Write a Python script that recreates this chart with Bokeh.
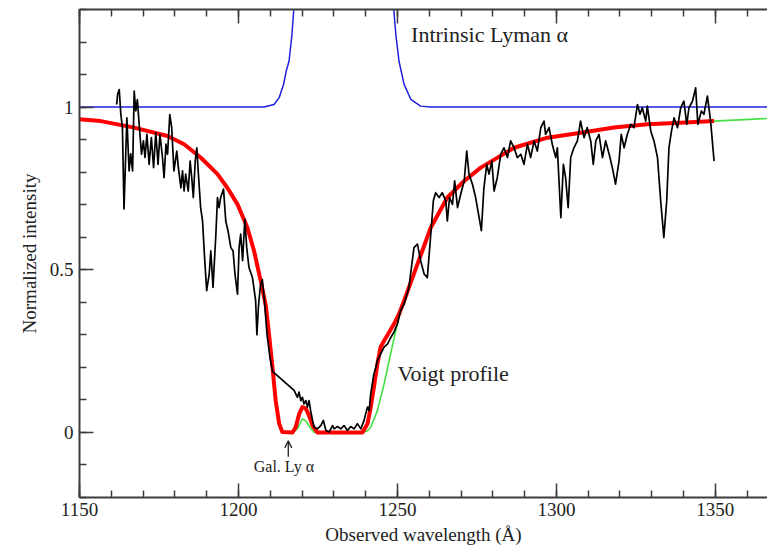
from bokeh.plotting import figure
from bokeh.models import (Range1d, LinearAxis, SingleIntervalTicker, CustomJSTickFormatter,
                          Label, Arrow, OpenHead)
from bokeh.embed import file_html
from bokeh.resources import INLINE

# Observed spectrum (wavelength in Angstrom, normalized flux)
spec_wl = [1161.7, 1162.0, 1162.5, 1163.0, 1163.5, 1164.0, 1164.9, 1165.6, 1166.1, 1166.7,
           1167.2, 1167.7, 1168.2, 1168.7, 1169.5, 1170.1, 1170.6, 1171.2, 1171.9, 1172.6,
           1173.3, 1174.0, 1174.7, 1175.3, 1176.1, 1176.6, 1177.2, 1177.7, 1178.4, 1179.0,
           1179.7, 1180.6, 1181.1, 1181.9, 1182.4, 1182.9, 1183.4, 1184.2, 1184.8, 1185.3,
           1185.8, 1186.4, 1186.9, 1187.4, 1188.1, 1188.7, 1189.4, 1190.0, 1190.8, 1191.3,
           1192.0, 1192.9, 1193.4, 1193.9, 1194.4, 1195.3, 1196.0, 1196.7, 1197.6, 1198.3,
           1198.9, 1199.7, 1200.2, 1200.7, 1201.3, 1202.0, 1202.6, 1203.3, 1204.4, 1205.4,
           1205.8, 1206.3, 1206.9, 1207.5, 1208.2, 1209.0, 1209.9, 1210.7, 1217.5, 1218.55,
           1219.06, 1219.6, 1220.1, 1220.6, 1221.2, 1221.7, 1222.2, 1222.7, 1223.3, 1223.8,
           1224.8, 1225.9, 1226.7, 1227.5, 1228.5, 1229.6, 1230.1, 1231.1, 1232.2, 1233.2,
           1234.3, 1235.3, 1236.4, 1237.4, 1238.5, 1239.5, 1240.0, 1240.6, 1241.1, 1241.6,
           1242.1, 1242.6, 1243.2, 1243.7, 1244.7, 1245.8, 1246.9, 1247.9, 1248.9, 1249.5,
           1250.0, 1250.5, 1251.0, 1252.1, 1253.6, 1255.2, 1256.3, 1257.3, 1258.4, 1259.4,
           1260.5, 1261.3, 1262.0, 1263.1, 1264.1, 1265.2, 1265.7, 1266.4, 1267.3, 1268.0,
           1268.9, 1269.9, 1271.0, 1271.8, 1272.5, 1273.6, 1274.6, 1275.7, 1276.4, 1277.2,
           1278.1, 1278.8, 1279.7, 1280.4, 1281.4, 1282.5, 1283.5, 1284.6, 1285.6, 1286.7,
           1287.7, 1288.8, 1289.8, 1290.9, 1291.9, 1293.0, 1294.0, 1295.1, 1296.1, 1296.6,
           1297.7, 1298.7, 1299.8, 1300.3, 1301.4, 1302.2, 1302.9, 1303.7, 1304.5, 1305.5,
           1306.6, 1307.6, 1308.7, 1309.7, 1310.8, 1311.6, 1312.4, 1313.4, 1314.5, 1315.5,
           1316.6, 1317.6, 1318.6, 1319.7, 1320.4, 1321.3, 1322.3, 1323.4, 1324.4, 1325.5,
           1326.3, 1327.0, 1328.1, 1328.6, 1329.7, 1330.7, 1331.8, 1332.8, 1333.8, 1334.7,
           1335.4, 1336.2, 1337.0, 1338.1, 1339.1, 1340.1, 1341.0, 1341.7, 1342.8, 1343.8,
           1344.5, 1345.6, 1346.4, 1347.5, 1348.5, 1349.6]
spec_flux = [1.008, 1.040, 1.054, 0.978, 0.937, 0.687, 0.967, 0.804, 0.856, 0.804,
             1.049, 0.988, 1.023, 0.957, 0.855, 0.896, 0.845, 0.916, 0.824, 0.906,
             0.814, 0.921, 0.824, 0.916, 0.845, 0.783, 0.886, 0.855, 0.977, 0.937,
             0.804, 0.865, 0.814, 0.752, 0.804, 0.742, 0.794, 0.742, 0.834, 0.783,
             0.722, 0.834, 0.875, 0.794, 0.691, 0.650, 0.528, 0.436, 0.487, 0.558,
             0.446, 0.610, 0.722, 0.691, 0.722, 0.748, 0.650, 0.620, 0.568, 0.558,
             0.487, 0.425, 0.568, 0.610, 0.528, 0.655, 0.568, 0.507, 0.476, 0.405,
             0.300, 0.390, 0.450, 0.470, 0.400, 0.300, 0.231, 0.188, 0.129, 0.108,
             0.124, 0.098, 0.108, 0.088, 0.098, 0.078, 0.098, 0.067, 0.037, 0.016,
             0.011, 0.021, 0.037, 0.006, 0.001, 0.021, 0.011, 0.018, 0.011, 0.021,
             0.006, 0.018, 0.011, 0.027, 0.011, 0.037, 0.057, 0.078, 0.067, 0.119,
             0.149, 0.180, 0.200, 0.221, 0.241, 0.262, 0.272, 0.292, 0.308, 0.323,
             0.333, 0.354, 0.374, 0.395, 0.445, 0.568, 0.579, 0.528, 0.487, 0.476,
             0.610, 0.712, 0.737, 0.722, 0.737, 0.712, 0.650, 0.722, 0.701, 0.773,
             0.691, 0.732, 0.773, 0.865, 0.794, 0.763, 0.722, 0.660, 0.620, 0.752,
             0.824, 0.794, 0.834, 0.742, 0.783, 0.855, 0.875, 0.845, 0.896, 0.875,
             0.845, 0.855, 0.824, 0.886, 0.845, 0.896, 0.865, 0.937, 0.957, 0.916,
             0.937, 0.886, 0.845, 0.875, 0.660, 0.824, 0.783, 0.691, 0.845, 0.875,
             0.896, 0.957, 0.906, 0.937, 0.896, 0.824, 0.896, 0.916, 0.845, 0.896,
             0.855, 0.814, 0.763, 0.834, 0.916, 0.875, 0.916, 0.947, 0.937, 1.008,
             0.978, 0.998, 0.957, 1.003, 0.926, 0.896, 0.845, 0.712, 0.599, 0.712,
             0.875, 0.926, 0.967, 0.937, 0.998, 1.018, 0.947, 0.998, 1.018, 1.059,
             0.947, 0.988, 0.978, 1.034, 0.957, 0.834]

# Intrinsic (unabsorbed) Lyman alpha emission
intr_wl = [1150.0, 1208.0, 1211.2, 1212.8, 1214.2, 1215.0, 1215.9, 1216.8, 1217.4, 1218.5,
           1233.0, 1248.0, 1248.9, 1249.5, 1250.5, 1252.1, 1254.2, 1257.3, 1260.5, 1366.4]
intr_flux = [1.0, 1.0, 1.008, 1.029, 1.07, 1.11, 1.141, 1.22, 1.30, 1.6,
             3.0, 1.6, 1.294, 1.223, 1.141, 1.07, 1.024, 1.003, 1.0, 1.0]

# Voigt profile of the damped absorber alone
voigt_wl = [1150.0, 1156.7, 1167.2, 1177.7, 1182.9, 1188.1, 1193.4, 1196.5, 1199.7, 1202.8,
            1204.9, 1207.0, 1208.6, 1209.6, 1210.7, 1211.7, 1212.8, 1213.8, 1217.0, 1218.5,
            1219.5, 1220.1, 1221.2, 1222.5, 1223.8, 1239.0, 1240.6, 1241.6, 1243.7, 1245.8,
            1247.4, 1249.0, 1250.5, 1252.1, 1253.6, 1260.5, 1265.7, 1271.0, 1276.2, 1286.7,
            1297.2, 1307.7, 1318.1, 1328.6, 1339.1, 1349.6, 1366.4]
voigt_flux = [0.963, 0.957, 0.937, 0.911, 0.886, 0.845, 0.794, 0.752, 0.701, 0.630,
              0.558, 0.466, 0.390, 0.303, 0.200, 0.098, 0.027, 0.001, 0.0, 0.010,
              0.030, 0.042, 0.035, 0.015, 0.0, 0.0, 0.005, 0.016, 0.067, 0.149,
              0.221, 0.292, 0.354, 0.405, 0.445, 0.630, 0.722, 0.773, 0.814, 0.875,
              0.906, 0.921, 0.937, 0.947, 0.952, 0.957, 0.965]

# Full model (Voigt profile plus Galactic Ly alpha absorption)
model_wl = [1150.0, 1156.7, 1167.2, 1177.7, 1182.9, 1188.1, 1193.4, 1196.5, 1199.7, 1202.8,
            1204.9, 1207.0, 1208.6, 1209.6, 1210.7, 1211.7, 1212.8, 1213.8, 1217.0, 1218.0,
            1219.1, 1220.1, 1221.2, 1222.2, 1223.3, 1224.8, 1239.0, 1240.6, 1241.6, 1242.6,
            1243.7, 1244.7, 1245.8, 1247.4, 1248.9, 1250.5, 1252.1, 1253.6, 1260.5, 1265.7,
            1271.0, 1276.2, 1286.7, 1297.2, 1307.7, 1318.1, 1328.6, 1339.1, 1349.6]
model_flux = [0.963, 0.957, 0.937, 0.911, 0.886, 0.845, 0.794, 0.752, 0.701, 0.630,
              0.558, 0.466, 0.390, 0.303, 0.200, 0.098, 0.027, 0.001, 0.0, 0.016,
              0.057, 0.078, 0.073, 0.052, 0.021, 0.0, 0.0, 0.027, 0.078, 0.139,
              0.211, 0.262, 0.282, 0.308, 0.333, 0.364, 0.405, 0.445, 0.630, 0.722,
              0.773, 0.814, 0.875, 0.906, 0.921, 0.937, 0.947, 0.952, 0.957]

GAL_LYA = 1215.67

SERIF = "Liberation Serif"
AXIS_COLOR = "#3c3c3c"
TEXT_COLOR = "#222222"

p = figure(width=767, height=548,
           x_range=Range1d(1150, 1366.4), y_range=Range1d(-0.2, 1.3),
           output_backend="svg", toolbar_location=None,
           min_border_left=79, min_border_right=0, min_border_top=9, min_border_bottom=51,
           outline_line_color=None, background_fill_color="white", border_fill_color="white")
p.grid.visible = False

fmt = CustomJSTickFormatter(code="return String(Number(tick.toFixed(2)));")


def style_axis(ax):
    ax.axis_line_color = AXIS_COLOR
    ax.axis_line_width = 2
    ax.major_tick_line_color = AXIS_COLOR
    ax.minor_tick_line_color = AXIS_COLOR
    ax.major_tick_line_width = 1.5
    ax.minor_tick_line_width = 1.5
    ax.major_tick_in = 14
    ax.major_tick_out = 0
    ax.minor_tick_in = 7
    ax.minor_tick_out = 0
    ax.major_label_text_font = SERIF
    ax.major_label_text_font_size = "19px"
    ax.major_label_text_color = TEXT_COLOR
    ax.axis_label_text_font = SERIF
    ax.axis_label_text_font_size = "19px"
    ax.axis_label_text_font_style = "normal"
    ax.axis_label_text_color = TEXT_COLOR


xa = p.xaxis[0]
xa.ticker = SingleIntervalTicker(interval=50, num_minor_ticks=5)
xa.formatter = fmt
style_axis(xa)
xa.major_label_standoff = 5
xa.axis_label = "Observed wavelength (Å)"
xa.axis_label_standoff = 5

ya = p.yaxis[0]
ya.ticker = SingleIntervalTicker(interval=0.5, num_minor_ticks=5)
ya.formatter = fmt
style_axis(ya)
ya.major_label_standoff = 6
ya.axis_label = "Normalized intensity"
ya.axis_label_standoff = 7

# mirrored tick marks along the top edge, without labels
top = LinearAxis(ticker=SingleIntervalTicker(interval=50, num_minor_ticks=5),
                 formatter=CustomJSTickFormatter(code="return '';"))
style_axis(top)
top.major_label_text_font_size = "1px"
top.major_label_standoff = 0
p.add_layout(top, "above")

# curves
p.line(intr_wl, intr_flux, line_color="#1f1fe0", line_width=1.5)
p.line(voigt_wl, voigt_flux, line_color="#44e044", line_width=1.6)
p.line(model_wl, model_flux, line_color="#ff0000", line_width=4, line_join="round")
p.line(spec_wl, spec_flux, line_color="black", line_width=1.7, line_join="round")

# annotations
p.add_layout(Label(x=1254.3, y=1.222, text="Intrinsic Lyman α", text_font=SERIF,
                   text_font_size="22px", text_color=TEXT_COLOR, text_baseline="alphabetic"))
p.add_layout(Label(x=1250.0, y=0.180, text="Voigt profile", text_font=SERIF,
                   text_font_size="22px", text_color=TEXT_COLOR, text_baseline="alphabetic"))
p.add_layout(Label(x=1214.3, y=-0.105, text="Gal. Ly α", text_font=SERIF,
                   text_font_size="16px", text_color=TEXT_COLOR, text_align="center",
                   text_baseline="alphabetic"))
p.add_layout(Arrow(x_start=GAL_LYA, y_start=-0.075, x_end=GAL_LYA, y_end=-0.026,
                   line_color=TEXT_COLOR, line_width=1.3,
                   end=OpenHead(size=7, line_color=TEXT_COLOR, line_width=1.3)))

open("out.html", "w").write(file_html(p, INLINE))
